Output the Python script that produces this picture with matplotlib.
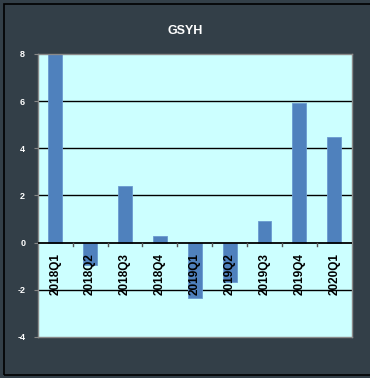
import numpy as np
import matplotlib.pyplot as plt
from matplotlib.patches import Rectangle

plt.rcParams['font.family'] = ['Liberation Sans', 'DejaVu Sans']

quarters = ['2018Q1', '2018Q2', '2018Q3', '2018Q4', '2019Q1',
            '2019Q2', '2019Q3', '2019Q4', '2020Q1']
gsyh = [8.0, -0.95, 2.4, 0.3, -2.35, -1.65, 0.93, 5.93, 4.5]
yticks = [-4, -2, 0, 2, 4, 6, 8]

BG = '#333F48'
PLOT_BG = '#CCFFFF'
BAR = '#4F81BD'

fig = plt.figure(figsize=(3.70, 3.78), dpi=100, facecolor=BG)
ax = fig.add_axes([0.102, 0.1085, 0.8486, 0.7487])
ax.set_facecolor(PLOT_BG)

# outer frame of the chart
fig.patches.append(Rectangle((0.011, 0.008), 0.995, 0.982, transform=fig.transFigure,
                             fill=False, edgecolor='black', linewidth=1.2))

x = np.arange(len(quarters))
ax.bar(x, gsyh, width=0.4, color=BAR, edgecolor='#6A9AD0', linewidth=0.6, zorder=2)

ax.set_xlim(-0.5, len(quarters) - 0.5)
ax.set_ylim(yticks[0], yticks[-1])
ax.set_yticks(yticks)
ax.set_yticklabels([str(v) for v in yticks], color='white', fontsize=6.5, fontweight='bold')
ax.tick_params(axis='y', length=3, width=0.8, color='#888888', pad=6)
ax.set_xticks([])

for v in yticks[1:-1]:
    ax.axhline(v, color='black', linewidth=1.0 if v else 1.3, zorder=1 if v else 3)

# small ticks between categories on the zero line
for b in np.arange(0.5, len(quarters) - 0.5):
    ax.plot([b, b], [0, -0.13], color='#555555', linewidth=1.0, zorder=3)

for xi, q in zip(x, quarters):
    ax.text(xi, -0.45, q, rotation=90, ha='center', va='top', fontsize=8.5,
            fontweight='bold', color='black', zorder=4)

for s in ax.spines.values():
    s.set_color('#8A8A8A')
    s.set_linewidth(1.0)

fig.text(0.5, 0.918, 'GSYH', ha='center', va='center', color='white',
         fontsize=9, fontweight='bold')

fig.savefig('out.png', dpi=100, facecolor=BG)
